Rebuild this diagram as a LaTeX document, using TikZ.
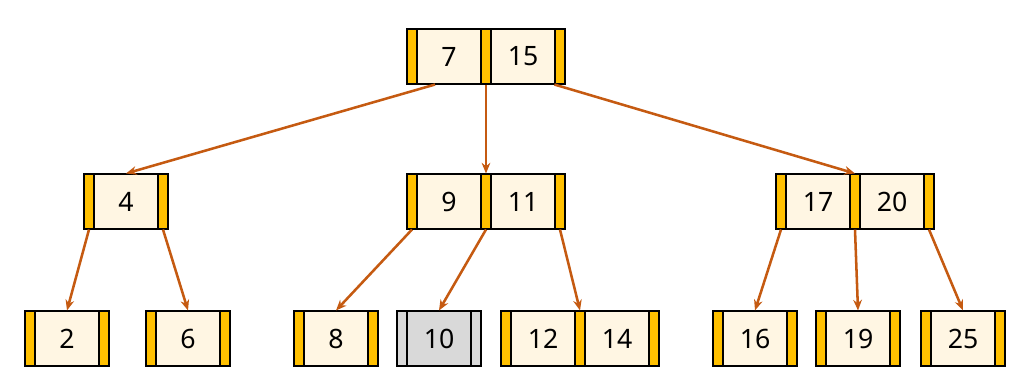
\documentclass[tikz,border=0pt]{standalone}
\usepackage{fontspec}
\setmainfont{Noto Sans}
\usetikzlibrary{arrows.meta,calc,positioning}
\definecolor{ptryellow}{HTML}{FFC000}
\definecolor{keycream}{HTML}{FFF6E3}
\definecolor{leafgray}{HTML}{D9D9D9}
\definecolor{edgeorange}{HTML}{C55A11}
\tikzset{
  cell/.style={draw=black, line width=0.8pt, inner sep=0pt, minimum height=41.25pt,
    font=\fontsize{20}{23}\selectfont},
  ptr/.style={cell, fill=ptryellow, minimum width=7.5pt},
  key/.style={cell, fill=keycream, minimum width=48pt},
  grayed/.style={fill=leafgray},
  edge/.style={draw=edgeorange, line width=1.9pt, -{Stealth[length=8pt,width=6.5pt]}}
}
% one B-tree node: pointer, key, pointer, key, ..., pointer
\newcommand{\btnode}[5][]{%
  \node[ptr,#1] (#2-p0) at (#3+5,#4) {};
  \foreach \k [count=\i] in {#5} {
    \node[key,#1] (#2-k\i) at ({#3+10+(\i-1)*74+32},#4) {\k};
    \node[ptr,#1] (#2-p\i) at ({#3+74*\i+5},#4) {};
  }%
}
\begin{document}
\begin{tikzpicture}[x=0.75pt,y=-0.75pt]
  \useasboundingbox (0,0) rectangle (1029,386);
  \def\ya{56.5}
  \def\yb{201.5}
  \def\yc{338.5}
  %Root
  \btnode{root}{407}{\ya}{7,15}
  %Middle level
  \btnode{n4}{84}{\yb}{4}
  \btnode{n911}{407}{\yb}{9,11}
  \btnode{n1720}{776}{\yb}{17,20}
  %Leaves
  \btnode{n2}{25}{\yc}{2}
  \btnode{n6}{146}{\yc}{6}
  \btnode{n8}{294}{\yc}{8}
  \btnode[grayed]{n10}{397}{\yc}{10}
  \btnode{n1214}{501}{\yc}{12,14}
  \btnode{n16}{713}{\yc}{16}
  \btnode{n19}{816}{\yc}{19}
  \btnode{n25}{921}{\yc}{25}
  %Edges
  \draw[edge] ([xshift=-10.5pt]root-k1.south) -- (n4-k1.north);
  \draw[edge] (root-p1.south) -- (n911-p1.north);
  \draw[edge] (root-p2.south west) -- (n1720-p1.north);
  \foreach \s/\t in {n4-p0/n2-k1, n4-p1/n6-k1, n911-p0/n8-k1, n911-p1/n10-k1,
      n911-p2/n1214-p1, n1720-p0/n16-k1, n1720-p1/n19-k1, n1720-p2/n25-k1}
    \draw[edge] (\s.south) -- (\t.north);
\end{tikzpicture}
\end{document}
